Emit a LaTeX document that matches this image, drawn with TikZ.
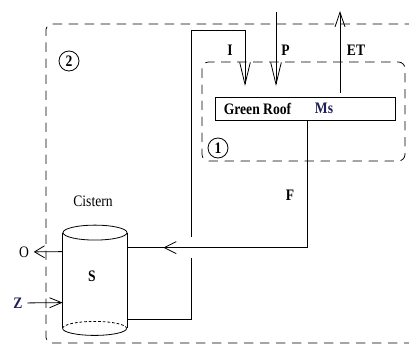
\documentclass[tikz,border=0pt]{standalone}
\usepackage{fontspec}
\setmainfont{Liberation Serif}[FakeStretch=0.85]
\usetikzlibrary{arrows.meta, positioning, calc, decorations.markings}
\definecolor{navy}{RGB}{30,30,90}
\tikzset{
  zone/.style={dash pattern=on 7pt off 5pt, rounded corners=4pt},
  num/.style={draw, circle, inner sep=0pt, minimum size=15pt, font=\fontsize{12}{14}\selectfont\bfseries},
  lbl/.style={inner sep=0pt, font=\fontsize{12}{14}\selectfont\bfseries},
}

\begin{document}
\begin{tikzpicture}[x=0.75pt, y=-0.75pt, line width=0.6pt, font=\fontsize{12}{14}\selectfont]
\useasboundingbox (0,0) rectangle (409,345);
% system boundaries
\draw[zone] (414,24) -- (46,24) -- (46,343) -- (414,343);
\draw[zone, rounded corners=5pt] (202,62) rectangle (405,161);
\node[num] (zone2) at (69,61) {2};
\node[num] (zone1) at (218,148) {1};
% green roof
\node[draw, minimum width=135pt, minimum height=17.25pt, inner sep=0pt] (roof) at (305,108.5) {};
\node[lbl] (roofname) at (257.5,109) {Green Roof};
\node[lbl, text=navy] (ms) at (324,108) {Ms};
% cistern
\node[minimum width=48pt, minimum height=71.25pt, inner sep=0pt] (cis) at (95,280.5) {};
\draw (cis.north west) -- (cis.south west);
\draw (cis.north east) -- (cis.south east);
\draw (cis.north) ellipse [x radius=24pt, y radius=5.6pt];
\draw (cis.south west) arc[start angle=180, end angle=360, x radius=24pt, y radius=5.25pt];
\draw[dash pattern=on 2pt off 1.5pt] (cis.south west) arc[start angle=180, end angle=0, x radius=24pt, y radius=5.25pt];
\node[inner sep=0pt] (cisname) at (93,201) {Cistern};
\node[lbl] (store) at (92,276) {S};
% flows
\coordinate (jumpa) at (191,237);
\coordinate (jumpb) at (191,258);
\coordinate (itop) at (245,30);
\coordinate (iend) at (245,86);
\coordinate (ptop) at (276,12);
\coordinate (pend) at (276,86);
\coordinate (etbot) at (340,93);
\coordinate (ettop) at (340,11);
\draw ($(cis.south east)+(0,-9)$) -| (jumpb);
\draw[-{Straight Barb[length=16.5pt, width=8pt]}] (jumpa) |- (itop) -- (iend);
\draw[-{Straight Barb[length=16.5pt, width=8pt]}] (ptop) -- (pend);
\draw[-{Straight Barb[length=11pt, width=7.5pt]}] (etbot) -- (ettop);
\draw[postaction=decorate, decoration={markings, mark=at position -27pt with {\arrow{Straight Barb[length=9pt, width=9pt]}}}]
  ($(roof.south)+(2,0)$) |- ($(cis.north east)+(0,15)$);
\node[lbl] (iname) at (230,50) {I};
\node[lbl] (pname) at (285.5,50) {P};
\node[lbl] (etname) at (356,50) {ET};
\node[lbl] (fname) at (290,195) {F};
\node (out) at (24,252) {O};
\node[lbl, inner sep=0.3333em, text=navy] (inz) at (18,303) {Z};
\draw[-{Straight Barb[length=7.5pt, width=9pt]}] ($(cis.north west)+(0,19)$) -- (out);
\draw[-{Straight Barb[length=9pt, width=7.5pt]}] (inz) -- ($(cis.north west)+(0,70)$);
\end{tikzpicture}
\end{document}
